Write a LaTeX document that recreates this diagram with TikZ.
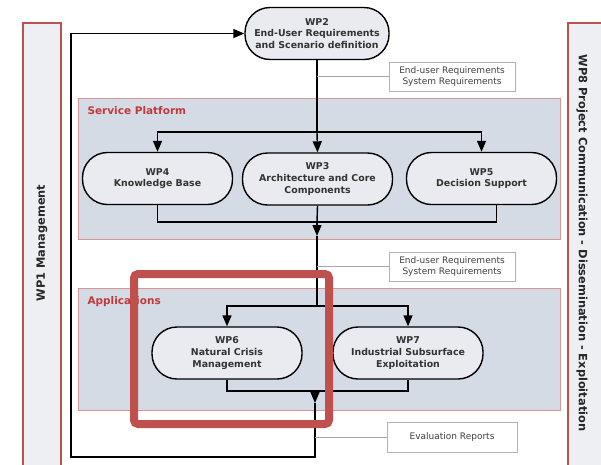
\documentclass[tikz,border=0pt]{standalone}
\usepackage{fontspec}
\setmainfont{DejaVu Sans}
\usetikzlibrary{positioning,arrows.meta}

\definecolor{panelfill}{HTML}{D4DBE5}
\definecolor{nodefill}{HTML}{E9EBF0}
\definecolor{barfill}{HTML}{EDEFF3}
\definecolor{wpred}{HTML}{C0504D}
\definecolor{titlered}{HTML}{C0393B}

\tikzset{
	wp/.style = {draw = black, line width = 1.4pt, fill = nodefill, rounded corners = 25pt,
		minimum width = 150pt, minimum height = 52pt, align = center, text = black!80,
		font = \bfseries\fontsize{9.4}{11.8}\selectfont},
	panel/.style = {draw = wpred!60, fill = panelfill},
	bar/.style = {draw = wpred, line width = 1.2pt, fill = barfill},
	bartext/.style = {font = \bfseries\fontsize{11.4}{13}\selectfont, text = black!85},
	paneltitle/.style = {anchor = west, text = titlered, font = \bfseries\fontsize{10.5}{12}\selectfont},
	note/.style = {draw = gray!60, fill = white, align = center, text = black!75,
		minimum width = 126pt, minimum height = 29pt, font = \fontsize{9}{10.5}\selectfont},
	link/.style = {line width = 1.4pt},
	flow/.style = {line width = 1.4pt, -{Triangle[length = 11pt, width = 9pt]}},
	tag/.style = {gray!70, line width = 0.8pt},
}

\begin{document}
\begin{tikzpicture}[x = 1pt, y = -1pt]
	\useasboundingbox (0,0) rectangle (601,464);

	% side bars
	\draw[bar] (23,23) rectangle (61,470);
	\node[bartext, rotate = 90] (wp1) at (42,243) {WP1 Management};
	\draw[bar] (568,23) rectangle (612,470);
	\node[bartext, rotate = -90] (wp8) at (582,243) {WP8 Project Communication - Dissemination - Exploitation};

	% panels
	\draw[panel] (78,98) rectangle (560,239);
	\node[paneltitle] (sp) at (84,111) {Service Platform};
	\draw[panel] (78,288) rectangle (560,410);
	\node[paneltitle] (apps) at (84,302) {Applications};

	% work packages
	\node[wp, minimum width = 144pt] (wp2) at (317,33.5) {WP2\\End-User Requirements\\and Scenario definition};
	\node[wp] (wp4) at (157.5,178.5) {WP4\\Knowledge Base};
	\node[wp] (wp3) at (317.5,179) {WP3\\Architecture and Core\\Components};
	\node[wp] (wp5) at (481.5,178.5) {WP5\\Decision Support};
	\node[wp] (wp6) at (227,353) {WP6\\Natural Crisis\\Management};
	\node[wp] (wp7) at (408,353) {WP7\\Industrial Subsurface\\Exploitation};

	% notes
	\node[note] (req1) at (452,76.5) {End-user Requirements\\System Requirements};
	\node[note] (req2) at (452,266.5) {End-user Requirements\\System Requirements};
	\node[note, minimum width = 130pt, minimum height = 30pt] (eval) at (452,437) {Evaluation Reports};

	% flow
	\coordinate (split1) at (317,132);
	\coordinate (merge1) at (317,222);
	\coordinate (tip1) at (317,236);
	\coordinate (split2) at (317,306);
	\coordinate (merge2) at (315,391);
	\coordinate (tip2) at (315,403);
	\coordinate (back) at (71,457);

	\draw[link] (wp2.south) -- (split1);
	\draw[flow] (split1) -| (wp4.north);
	\draw[flow] (split1) -- (wp3.north);
	\draw[flow] (split1) -| (wp5.north);

	\draw[link] (wp4.south) |- (merge1);
	\draw[link] ([xshift = 15pt]wp5.south) |- (merge1);
	\draw[link] (wp3.south) -- (merge1);
	\draw[flow] (merge1) -- (tip1);
	\draw[link] (tip1) -- (split2);

	\draw[flow] (split2) -| (wp6.north);
	\draw[flow] (split2) -| (wp7.north);

	\draw[link] (wp6.south) |- (merge2);
	\draw[link] (wp7.south) |- (merge2);
	\draw[flow] (merge2) -- (tip2);
	\draw[flow] (tip2) |- (back) |- (wp2.west);

	\draw[tag] (split1 |- req1.west) -- (req1.west);
	\draw[tag] (split1 |- req2.west) -- (req2.west);
	\draw[tag] (merge2 |- eval.west) -- (eval.west);

	% highlight
	\draw[wpred, line width = 8pt, rounded corners = 4pt] (134,274) rectangle (329,424);
\end{tikzpicture}
\end{document}
